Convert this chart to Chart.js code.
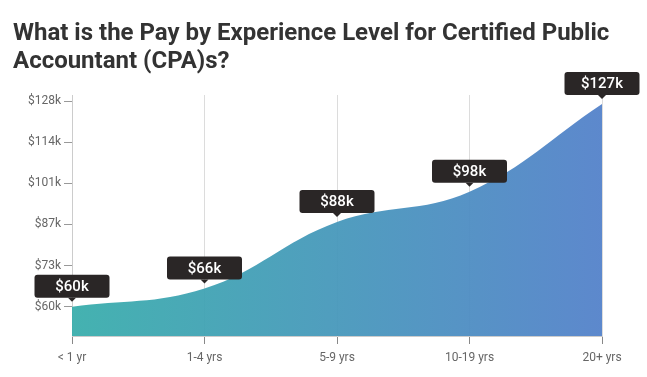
<!DOCTYPE html>
<html>
<head>
<meta charset="utf-8">
<script src="https://cdn.jsdelivr.net/npm/chart.js@4"></script>
<style>
  body { margin: 0; background: #fff; }
  .wrap { position: relative; width: 647px; height: 377px; }
  .title { position: absolute; left: 13px; top: 18px; font: bold 24px Roboto, sans-serif; line-height: 28px; color: #333; margin: 0; z-index: 2; }
  canvas { position: absolute; left: 0; top: 0; }
</style>
</head>
<body>
<div class="wrap">
  <h2 class="title">What is the Pay by Experience Level for Certified Public<br>Accountant (CPA)s?</h2>
  <canvas id="chart" width="647" height="377"></canvas>
</div>
<script>
// experience levels and pay (thousands of $)
const categories = ['< 1 yr', '1-4 yrs', '5-9 yrs', '10-19 yrs', '20+ yrs'];
const payK = [60, 66, 88, 98, 127];
const yTickValues = [60, 73.6, 87.2, 100.8, 114.4, 128];
const yTickLabels = ['$60k', '$73k', '$87k', '$101k', '$114k', '$128k'];

// dark call-out boxes above each point
const calloutPlugin = {
  id: 'callouts',
  afterDatasetsDraw(chart) {
    const ctx = chart.ctx;
    const pts = chart.getDatasetMeta(0).data;
    ctx.save();
    pts.forEach((p, i) => {
      const w = 75, h = 23;
      const tipY = p.y - 5;
      const bottom = tipY - 4;
      const top = bottom - h;
      const left = p.x - w / 2;
      ctx.fillStyle = '#2a2626';
      ctx.beginPath();
      ctx.roundRect(left, top, w, h, 3);
      ctx.fill();
      ctx.beginPath();
      ctx.moveTo(p.x - 4, bottom);
      ctx.lineTo(p.x + 4, bottom);
      ctx.lineTo(p.x, tipY);
      ctx.closePath();
      ctx.fill();
      ctx.fillStyle = '#fff';
      ctx.font = '500 15px Roboto';
      ctx.textAlign = 'center';
      ctx.textBaseline = 'middle';
      ctx.fillText('$' + payK[i] + 'k', p.x, top + h / 2 + 1);
    });
    ctx.restore();
  }
};

new Chart(document.getElementById('chart'), {
  type: 'line',
  data: {
    labels: categories,
    datasets: [{
      data: payK,
      fill: 'start',
      tension: 0.4,
      borderWidth: 0,
      pointRadius: 0,
      backgroundColor: (c) => {
        const a = c.chart.chartArea;
        if (!a) return '#4a98bb';
        const g = c.chart.ctx.createLinearGradient(a.left, 0, a.right, 0);
        g.addColorStop(0, 'rgba(58,174,172,0.95)');
        g.addColorStop(1, 'rgba(84,130,202,0.95)');
        return g;
      }
    }]
  },
  options: {
    responsive: false,
    animation: false,
    layout: { padding: { top: 95, right: 45, left: 0, bottom: 0 } },
    plugins: { legend: { display: false }, tooltip: { enabled: false } },
    scales: {
      x: {
        afterFit: (s) => { s.height = 41; },
        grid: { color: '#dcdcdc', tickColor: '#888', tickLength: 8 },
        border: { color: '#ccc' },
        ticks: { color: '#666', padding: 7, maxRotation: 0, font: { family: 'Roboto', size: 12 } }
      },
      y: {
        min: 50.3,
        max: 130,
        afterFit: (s) => { s.width = 72; },
        afterBuildTicks: (s) => { s.ticks = yTickValues.map(v => ({ value: v })); },
        grid: { drawOnChartArea: false, tickColor: '#999', tickLength: 8 },
        border: { color: '#ccc' },
        ticks: {
          color: '#666', padding: 3,
          font: { family: 'Roboto', size: 12 },
          callback: (v, i) => yTickLabels[i]
        }
      }
    }
  },
  plugins: [calloutPlugin]
});
</script>
</body>
</html>
